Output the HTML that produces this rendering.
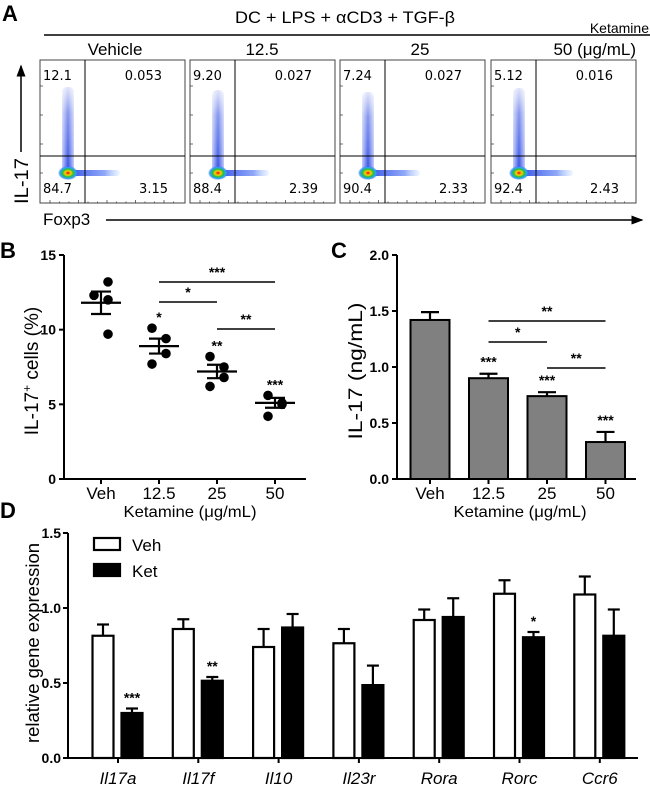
<!DOCTYPE html>
<html><head><meta charset="utf-8"><style>
html,body{margin:0;padding:0;background:#fff}
svg{display:block;font-family:"Liberation Sans",Arial,sans-serif}
</style></head><body>
<svg id="fig" width="650" height="789" viewBox="0 0 650 789" xmlns="http://www.w3.org/2000/svg">
<defs>
<radialGradient id="hot" cx="50%" cy="50%" r="50%">
<stop offset="0" stop-color="#e00000"/><stop offset="0.3" stop-color="#ffd000"/><stop offset="0.55" stop-color="#20c040"/><stop offset="0.8" stop-color="#30a0ff"/><stop offset="1" stop-color="#3060ff" stop-opacity="0"/>
</radialGradient>
<linearGradient id="col" x1="0" y1="0" x2="0" y2="1">
<stop offset="0" stop-color="#3050e0" stop-opacity="0.15"/><stop offset="0.3" stop-color="#2040e0" stop-opacity="0.55"/><stop offset="1" stop-color="#1030e0" stop-opacity="0.85"/>
</linearGradient>
<linearGradient id="colh" x1="0" y1="0" x2="1" y2="0">
<stop offset="0" stop-color="#fff" stop-opacity="0.7"/><stop offset="0.5" stop-color="#fff" stop-opacity="0"/><stop offset="1" stop-color="#fff" stop-opacity="0.7"/>
</linearGradient>
<linearGradient id="tail" x1="0" y1="0" x2="1" y2="0">
<stop offset="0" stop-color="#1030e0" stop-opacity="0.85"/><stop offset="0.7" stop-color="#2050f0" stop-opacity="0.5"/><stop offset="1" stop-color="#60a0ff" stop-opacity="0.1"/>
</linearGradient>
<marker id="arr" markerWidth="8" markerHeight="8" refX="7" refY="4" orient="auto"><path d="M0,1 L8,4 L0,7 z" fill="#000"/></marker>
</defs>

<!-- Panel A -->
<g>
<text x="2" y="21" font-size="22" font-weight="bold">A</text>
<text x="345" y="23" font-size="17" text-anchor="middle" textLength="220" lengthAdjust="spacingAndGlyphs">DC + LPS + αCD3 + TGF-β</text>
<line x1="44" y1="35" x2="650" y2="35" stroke="#000" stroke-width="1.5"/>
<text x="649" y="33" font-size="14" text-anchor="end">Ketamine</text>
<text x="115" y="55" font-size="17" text-anchor="middle">Vehicle</text>
<text x="262" y="55" font-size="17" text-anchor="middle">12.5</text>
<text x="420" y="55" font-size="17" text-anchor="middle">25</text>
<text x="636" y="55" font-size="17" text-anchor="end">50 (μg/mL)</text>
<g id="flow"></g>
<line x1="21" y1="152" x2="21" y2="66" stroke="#000" stroke-width="1.5" marker-end="url(#arr)"/>
<text transform="translate(28,204) rotate(-90)" font-size="19" textLength="46" lengthAdjust="spacingAndGlyphs">IL-17</text>
<text x="43" y="225" font-size="17">Foxp3</text>
<line x1="106" y1="220" x2="642" y2="220" stroke="#000" stroke-width="1.5" marker-end="url(#arr)"/>
</g>

<!-- Panel B -->
<g>
<text x="0" y="258" font-size="22" font-weight="bold">B</text>
<g id="pb"></g>
<text transform="translate(38,371) rotate(-90)" font-size="19" text-anchor="middle">IL-17<tspan baseline-shift="super" font-size="12">+</tspan> cells (%)</text>
<text x="190" y="517" font-size="16" text-anchor="middle" textLength="133" lengthAdjust="spacingAndGlyphs">Ketamine (μg/mL)</text>
</g>

<!-- Panel C -->
<g>
<text x="331" y="258" font-size="22" font-weight="bold">C</text>
<g id="pc"></g>
<text transform="translate(362,371) rotate(-90)" font-size="19" text-anchor="middle" textLength="137" lengthAdjust="spacingAndGlyphs">IL-17 (ng/mL)</text>
<text x="520" y="517" font-size="16" text-anchor="middle" textLength="133" lengthAdjust="spacingAndGlyphs">Ketamine (μg/mL)</text>
</g>

<!-- Panel D -->
<g>
<text x="0" y="518" font-size="22" font-weight="bold">D</text>
<g id="pd"></g>
<text transform="translate(39,643) rotate(-90)" font-size="18" text-anchor="middle" textLength="200" lengthAdjust="spacingAndGlyphs">relative gene expression</text>
<rect x="94" y="538" width="26" height="12" fill="#fff" stroke="#000" stroke-width="2.2"/>
<text x="132" y="551" font-size="17">Veh</text>
<rect x="94" y="564" width="26" height="12" fill="#000" stroke="#000" stroke-width="2.2"/>
<text x="132" y="577" font-size="17">Ket</text>
</g>
</svg>
<script>
// ---- Panel A data ----
const flowConds = ['vehicle','12.5','25','50'];
const flowUL = ['12.1','9.20','7.24','5.12'];
const flowUR = ['0.053','0.027','0.027','0.016'];
const flowLL = ['84.7','88.4','90.4','92.4'];
const flowLR = ['3.15','2.39','2.33','2.43'];
// ---- Panel B data ----
const bCats = ['Veh','12.5','25','50'];
const bPoints = [[13.2,12.3,12.0,9.7],[10.1,9.4,8.4,7.7],[8.2,7.5,6.8,6.2],[5.6,5.1,5.0,4.2]];
const bMean = [11.8,8.9,7.2,5.1];
const bSem = [0.75,0.5,0.45,0.33];
const bTicks = [0,5,10,15];
const bStars = ['','*','**','***'];
// ---- Panel C data ----
const cCats = ['Veh','12.5','25','50'];
const cVals = [1.42,0.90,0.74,0.33];
const cErr = [0.07,0.04,0.035,0.09];
const cTicks = [0,0.5,1.0,1.5,2.0];
const cStars = ['','***','***','***'];
// ---- Panel D data ----
const dGenes = ['Il17a','Il17f','Il10','Il23r','Rora','Rorc','Ccr6'];
const dVeh = [0.815,0.86,0.74,0.765,0.92,1.095,1.09];
const dVehErr = [0.075,0.065,0.12,0.095,0.07,0.09,0.12];
const dKet = [0.30,0.515,0.87,0.486,0.94,0.805,0.815];
const dKetErr = [0.03,0.025,0.09,0.13,0.125,0.035,0.175];
const dTicks = [0,0.5,1.0,1.5];
const dStars = ['***','**','','','','*',''];

const NS='http://www.w3.org/2000/svg';
function mk(parent,tag,attrs,text){const e=document.createElementNS(NS,tag);for(const k in attrs)e.setAttribute(k,attrs[k]);if(text!==undefined)e.textContent=text;parent.appendChild(e);return e;}

// ---- Panel A ----
(function(){
const g=document.getElementById('flow');
const lefts=[40,190,340,491], W=145, top=60, H=143;
flowConds.forEach((c,i)=>{
  const x=lefts[i];
  const grp=mk(g,'g',{});
  
  
  const cx=x+28, by=173;
  const colTop=[87,90,92,88][i];
  const col=mk(grp,'rect',{x:cx-6,y:colTop,width:12,height:by-colTop,fill:'url(#col)',rx:5});
  
  
  mk(grp,'rect',{x:cx-6,y:colTop,width:12,height:by-colTop,fill:'url(#colh)',rx:5});
  const tl=mk(grp,'rect',{x:cx,y:by-3,width:[80,79,80,82][i]-28,height:6,fill:'url(#tail)',rx:3});
  
  
  const hs=mk(grp,'ellipse',{cx:cx,cy:by,rx:10,ry:7,fill:'url(#hot)'});
  
  
  const bx=mk(grp,'rect',{x:x,y:top,width:W,height:H,fill:'none',stroke:'#444',"stroke-width":1});
  
  
  mk(grp,'line',{x1:x+45,y1:top,x2:x+45,y2:top+H,stroke:'#000'});
  mk(grp,'line',{x1:x,y1:156,x2:x+W,y2:156,stroke:'#000'});
  for(let k=0;k<14;k++){mk(grp,'line',{x1:x+10+k*9.5,y1:top+H,x2:x+10+k*9.5,y2:top+H-(k%3==0?3:1.5),stroke:'#333','stroke-width':0.7});}
  for(let k=0;k<4;k++){mk(grp,'line',{x1:x,y1:86+k*29,x2:x+3,y2:86+k*29,stroke:'#333','stroke-width':0.7});}
  const f='font-family:"DejaVu Sans",sans-serif';
  const t1=mk(grp,'text',{x:x+3,y:80,'font-size':13,style:f},flowUL[i]);
  
  const t2=mk(grp,'text',{x:x+122,y:80,'font-size':13,'text-anchor':'end',style:f},flowUR[i]);
  
  const t3=mk(grp,'text',{x:x+3,y:193,'font-size':13,style:f},flowLL[i]);
  
  const t4=mk(grp,'text',{x:x+128,y:193,'font-size':13,'text-anchor':'end',style:f},flowLR[i]);
  
});
})();

// ---- Panel B ----
(function(){
const g=document.getElementById('pb');
const x0=64,x1=306,yTop=255,yBot=479,vmax=15;
const y=v=>yBot-(v/vmax)*(yBot-yTop);
const xc=i=>101+i*58;
mk(g,'line',{x1:x0,y1:yTop,x2:x0,y2:yBot+1,stroke:'#000','stroke-width':2});
mk(g,'line',{x1:x0-1,y1:yBot,x2:x1,y2:yBot,stroke:'#000','stroke-width':2});
bTicks.forEach(t=>{
  mk(g,'line',{x1:x0-5,y1:y(t),x2:x0,y2:y(t),stroke:'#000','stroke-width':2});
  const tx=mk(g,'text',{x:x0-8,y:y(t)+5,'font-size':14,'font-weight':'bold','text-anchor':'end'},t);
  
});
const offs=[[7,-7,7,7],[-7,7,7,-7],[-7,7,7,-7],[-7,7,7,-7]];
bCats.forEach((c,i)=>{
  mk(g,'line',{x1:xc(i),y1:yBot,x2:xc(i),y2:yBot+5,stroke:'#000','stroke-width':2});
  const tx=mk(g,'text',{x:xc(i),y:499,'font-size':17,'text-anchor':'middle'},c);
  
  bPoints[i].forEach((v,k)=>{
    const d=mk(g,'circle',{cx:xc(i)+offs[i][k],cy:y(v),r:4.8,fill:'#000'});
    
  });
  const m=mk(g,'line',{x1:xc(i)-20,y1:y(bMean[i]),x2:xc(i)+20,y2:y(bMean[i]),stroke:'#000','stroke-width':2.2});
  
  mk(g,'line',{x1:xc(i),y1:y(bMean[i]+bSem[i]),x2:xc(i),y2:y(bMean[i]-bSem[i]),stroke:'#000','stroke-width':2.2});
  mk(g,'line',{x1:xc(i)-10,y1:y(bMean[i]+bSem[i]),x2:xc(i)+10,y2:y(bMean[i]+bSem[i]),stroke:'#000','stroke-width':2.2});
  mk(g,'line',{x1:xc(i)-10,y1:y(bMean[i]-bSem[i]),x2:xc(i)+10,y2:y(bMean[i]-bSem[i]),stroke:'#000','stroke-width':2.2});
  if(bStars[i]){
    const top=Math.max(...bPoints[i]);
    const s=mk(g,'text',{x:xc(i),y:y(top)-6,'font-size':14,'font-weight':'bold','text-anchor':'middle'},bStars[i]);
    
  }
});
[[1,3,282,'***'],[1,2,302,'*'],[2,3,329,'**']].forEach(b=>{
  const l=mk(g,'line',{x1:xc(b[0]),y1:b[2],x2:xc(b[1]),y2:b[2],stroke:'#000','stroke-width':1.5});
  
  mk(g,'text',{x:(xc(b[0])+xc(b[1]))/2,y:b[2]-5,'font-size':14,'font-weight':'bold','text-anchor':'middle'},b[3]);
});
})();

// ---- Panel C ----
(function(){
const g=document.getElementById('pc');
const x0=397,x1=636,yTop=255,yBot=479,vmax=2;
const y=v=>yBot-(v/vmax)*(yBot-yTop);
const xc=i=>430+i*58.5;
const bw=39;
mk(g,'line',{x1:x0,y1:yTop,x2:x0,y2:yBot+1,stroke:'#000','stroke-width':2});
mk(g,'line',{x1:x0-1,y1:yBot,x2:x1,y2:yBot,stroke:'#000','stroke-width':2});
cTicks.forEach(t=>{
  mk(g,'line',{x1:x0-5,y1:y(t),x2:x0,y2:y(t),stroke:'#000','stroke-width':2});
  const tx=mk(g,'text',{x:x0-8,y:y(t)+5,'font-size':14,'font-weight':'bold','text-anchor':'end'},t.toFixed(1));
  
});
cCats.forEach((c,i)=>{
  mk(g,'line',{x1:xc(i),y1:yBot,x2:xc(i),y2:yBot+5,stroke:'#000','stroke-width':2});
  const tx=mk(g,'text',{x:xc(i),y:499,'font-size':17,'text-anchor':'middle'},c);
  
  mk(g,'line',{x1:xc(i),y1:y(cVals[i]),x2:xc(i),y2:y(cVals[i]+cErr[i]),stroke:'#000','stroke-width':2.2});
  mk(g,'line',{x1:xc(i)-9,y1:y(cVals[i]+cErr[i]),x2:xc(i)+9,y2:y(cVals[i]+cErr[i]),stroke:'#000','stroke-width':2.2});
  const r=mk(g,'rect',{x:xc(i)-bw/2,y:y(cVals[i]),width:bw,height:yBot-y(cVals[i]),fill:'#808080',stroke:'#000','stroke-width':2});
  
  if(cStars[i]){
    const s=mk(g,'text',{x:xc(i),y:y(cVals[i]+cErr[i])-7,'font-size':14,'font-weight':'bold','text-anchor':'middle'},cStars[i]);
    
  }
});
[[1,3,321,'**'],[1,2,342,'*'],[2,3,368,'**']].forEach(b=>{
  const l=mk(g,'line',{x1:xc(b[0]),y1:b[2],x2:xc(b[1]),y2:b[2],stroke:'#000','stroke-width':1.5});
  
  mk(g,'text',{x:(xc(b[0])+xc(b[1]))/2,y:b[2]-5,'font-size':14,'font-weight':'bold','text-anchor':'middle'},b[3]);
});
})();

// ---- Panel D ----
(function(){
const g=document.getElementById('pd');
const x0=68,x1=638,yTop=533,yBot=758,vmax=1.5;
const y=v=>yBot-(v/vmax)*(yBot-yTop);
const xc=i=>118+i*80.3;
const bw=21;
mk(g,'line',{x1:x0,y1:yTop,x2:x0,y2:yBot+1,stroke:'#000','stroke-width':2});
mk(g,'line',{x1:x0-1,y1:yBot,x2:x1,y2:yBot,stroke:'#000','stroke-width':2});
dTicks.forEach(t=>{
  mk(g,'line',{x1:x0-5,y1:y(t),x2:x0,y2:y(t),stroke:'#000','stroke-width':2});
  const tx=mk(g,'text',{x:x0-7,y:y(t)+5,'font-size':14,'font-weight':'bold','text-anchor':'end'},t.toFixed(1));
  
});
dGenes.forEach((gn,i)=>{
  mk(g,'line',{x1:xc(i),y1:yBot,x2:xc(i),y2:yBot+5,stroke:'#000','stroke-width':2});
  const tx=mk(g,'text',{x:xc(i),y:784,'font-size':17,'font-style':'italic','text-anchor':'middle'},gn);
  
  [[dVeh,dVehErr,-15,'#fff','veh'],[dKet,dKetErr,14,'#000','ket']].forEach(s=>{
    const cx=xc(i)+s[2], v=s[0][i], e=s[1][i];
    mk(g,'line',{x1:cx,y1:y(v),x2:cx,y2:y(v+e),stroke:'#000','stroke-width':2.2});
    mk(g,'line',{x1:cx-6,y1:y(v+e),x2:cx+6,y2:y(v+e),stroke:'#000','stroke-width':2.2});
    const r=mk(g,'rect',{x:cx-bw/2,y:y(v),width:bw,height:yBot-y(v),fill:s[3],stroke:'#000','stroke-width':2.2});
    
  });
  if(dStars[i]){
    const st=mk(g,'text',{x:xc(i)+14,y:y(dKet[i]+dKetErr[i])-6,'font-size':14,'font-weight':'bold','text-anchor':'middle'},dStars[i]);
    
  }
});
})();
</script>
</body></html>
